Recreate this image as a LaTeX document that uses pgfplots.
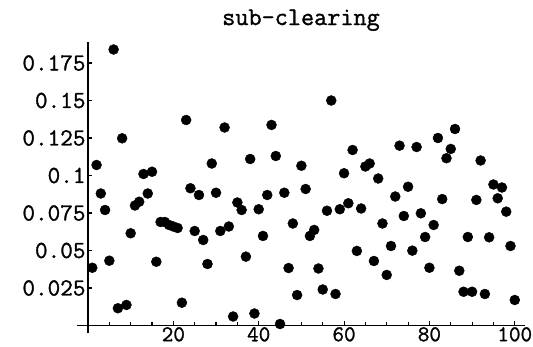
\documentclass[border=0pt]{standalone}
\usepackage{fontspec}
\newfontfamily\reffont{Latin Modern Mono}[FakeBold=1.2]
\usepackage{pgfplots}
\pgfplotsset{compat=1.18}
\pgfplotstableread{
x y
1 0.0385
2 0.107
3 0.088
4 0.077
5 0.0432
6 0.184
7 0.0115
8 0.1248
9 0.0137
10 0.0615
11 0.080
12 0.0825
13 0.101
14 0.088
15 0.1025
16 0.0425
17 0.069
18 0.069
19 0.067
20 0.066
21 0.065
22 0.0152
23 0.137
24 0.0915
25 0.063
26 0.087
27 0.057
28 0.041
29 0.108
30 0.0885
31 0.063
32 0.132
33 0.066
34 0.006
35 0.082
36 0.077
37 0.0459
38 0.111
39 0.008
40 0.0775
41 0.0597
42 0.087
43 0.1337
44 0.113
45 0.001
46 0.0885
47 0.0383
48 0.068
49 0.0203
50 0.1065
51 0.091
52 0.0597
53 0.0637
54 0.038
55 0.024
56 0.0765
57 0.150
58 0.021
59 0.0775
60 0.1015
61 0.0815
62 0.117
63 0.0497
64 0.078
65 0.106
66 0.108
67 0.043
68 0.098
69 0.068
70 0.0337
71 0.053
72 0.086
73 0.1199
74 0.073
75 0.0925
76 0.0499
77 0.119
78 0.0748
79 0.059
80 0.0385
81 0.067
82 0.125
83 0.0843
84 0.1115
85 0.1177
86 0.131
87 0.0365
88 0.0225
89 0.059
90 0.0225
91 0.0837
92 0.110
93 0.021
94 0.0588
95 0.094
96 0.0848
97 0.092
98 0.0759
99 0.053
100 0.017
}\datatable
\begin{document}
\begin{tikzpicture}
\begin{axis}[name=ax, scale only axis, width=448bp, height=291bp,
  xmin=-2.58, xmax=102.4, ymin=-0.005, ymax=0.189,
  axis lines=middle, axis line style={-, line width=1.3bp},
  xtick={20,40,60,80,100}, xticklabels={20,40,60,80,100},
  minor xtick={5,10,15,25,30,35,45,50,55,65,70,75,85,90,95},
  ytick={0.025,0.05,0.075,0.1,0.125,0.15,0.175},
  yticklabels={0.025,0.05,0.075,0.1,0.125,0.15,0.175},
  tick align=inside, major tick length=4bp, minor tick length=3bp,
  every tick/.style={line width=1.1bp, black},
  tick label style={font=\reffont\fontsize{24.5bp}{26bp}\selectfont},
  yticklabel style={xshift=1bp},
  xticklabel style={font=\reffont\fontsize{22.5bp}{24bp}\selectfont, inner sep=0pt, anchor=north, yshift=-1.5bp},
  title={sub-clearing},
  title style={font=\reffont\fontsize{25.5bp}{27bp}\selectfont, at={(0.5,1)}, anchor=base, yshift=11bp, inner sep=0pt},
  clip=false]
\addplot[only marks, mark=*, mark size=5bp, mark options={fill=black, draw=black}] table[x=x,y=y] {\datatable};
\end{axis}
\pgfresetboundingbox
\path ([shift={(-77bp,-14bp)}]ax.south west) rectangle ([shift={(8bp,42bp)}]ax.north east);
\end{tikzpicture}
\end{document}
